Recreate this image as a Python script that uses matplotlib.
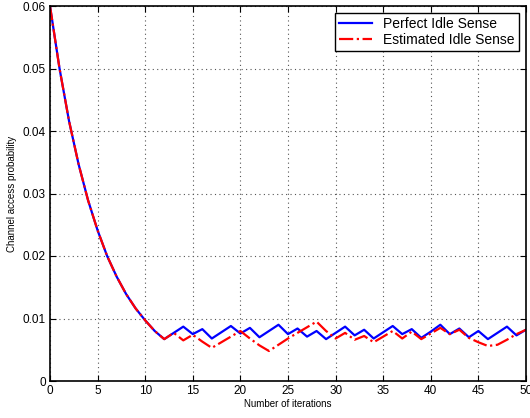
import matplotlib
matplotlib.use("Agg")
import matplotlib.pyplot as plt

plt.rcParams["font.family"] = ["Liberation Sans", "DejaVu Sans"]

iterations = list(range(0, 51))
perfect = [0.0600, 0.0500, 0.0416, 0.0347, 0.0289, 0.0241, 0.0200, 0.0167,
           0.0139, 0.0116, 0.0097, 0.0080, 0.0067,
           0.0077, 0.0087, 0.0075, 0.0083, 0.0068, 0.0078, 0.0088, 0.0076,
           0.0085, 0.0070, 0.0080, 0.0090, 0.0075, 0.0084, 0.0071, 0.0080,
           0.0067, 0.0077, 0.0087, 0.0073, 0.0082, 0.0068, 0.0078, 0.0088,
           0.0075, 0.0083, 0.0069, 0.0079, 0.0090, 0.0075, 0.0084, 0.0070,
           0.0080, 0.0067, 0.0077, 0.0087, 0.0073, 0.0082]
estimated = [0.0600, 0.0500, 0.0416, 0.0347, 0.0289, 0.0241, 0.0200, 0.0167,
             0.0139, 0.0116, 0.0097, 0.0080, 0.0067,
             0.0077, 0.0065, 0.0074, 0.0063, 0.0053, 0.0062, 0.0071, 0.0080,
             0.0068, 0.0057, 0.0048, 0.0058, 0.0068, 0.0077, 0.0086, 0.0095,
             0.0080, 0.0068, 0.0077, 0.0066, 0.0072, 0.0062, 0.0071, 0.0080,
             0.0068, 0.0079, 0.0067, 0.0076, 0.0085, 0.0075, 0.0082, 0.0069,
             0.0062, 0.0056, 0.0058, 0.0066, 0.0075, 0.0082]

fig = plt.figure(figsize=(5.3, 4.18), dpi=100)
ax = fig.add_axes([50 / 530, 37 / 418, 476 / 530, 375 / 418])

ax.plot(iterations, perfect, color="blue", lw=1.6, label="Perfect Idle Sense")
ax.plot(iterations, estimated, color="red", lw=1.6, ls="-.", label="Estimated Idle Sense")

ax.set_xlim(0, 50)
ax.set_ylim(0, 0.06)
ax.set_xticks(range(0, 51, 5))
ax.set_yticks([0, 0.01, 0.02, 0.03, 0.04, 0.05, 0.06])
ax.set_yticklabels(["0", "0.01", "0.02", "0.03", "0.04", "0.05", "0.06"])
ax.tick_params(direction="in", top=True, right=True, labelsize=8.5, length=4, pad=3)
ax.grid(True, color="#555555", ls=(0, (1, 3)), lw=0.8)
for s in ax.spines.values():
    s.set_linewidth(1.2)

ax.set_xlabel("Number of iterations", fontsize=7, labelpad=1)
ax.set_ylabel("Channel access probability", fontsize=7, labelpad=4)

leg = ax.legend(loc="upper right", fontsize=10, fancybox=False, framealpha=1,
                edgecolor="black", handlelength=2.4, borderpad=0.3,
                labelspacing=0.1, borderaxespad=0.5)
leg.get_frame().set_linewidth(1.0)

fig.savefig("out.png", dpi=100)
